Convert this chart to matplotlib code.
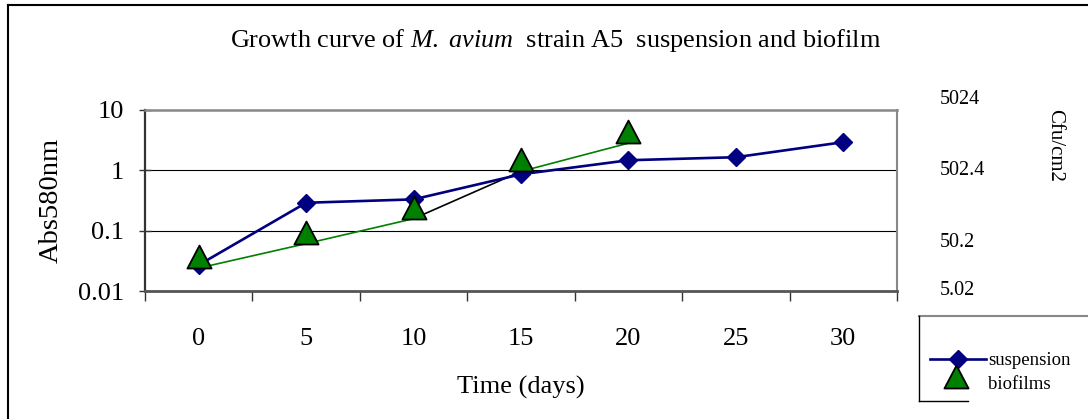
import matplotlib
matplotlib.use("Agg")
import matplotlib.pyplot as plt
import numpy as np
from matplotlib.path import Path
from matplotlib.lines import Line2D
from matplotlib.ticker import FixedLocator, NullLocator, FixedFormatter

plt.rcParams['font.family'] = ['Liberation Serif', 'DejaVu Serif']
plt.rcParams['mathtext.fontset'] = 'custom'
plt.rcParams['mathtext.rm'] = 'Liberation Serif'
plt.rcParams['mathtext.it'] = 'Liberation Serif:italic'

# ---- data ----
days = ["0", "5", "10", "15", "20", "25", "30"]
suspension = [0.027, 0.29, 0.33, 0.86, 1.47, 1.65, 2.93]
biofilms = [0.024, 0.061, 0.158, 0.96, 2.82]
biofilm_segment_colors = ["#008000", "#008000", "#000000", "#008000"]
left_ticks = [0.01, 0.1, 1, 10]
left_tick_labels = ["0.01", "0.1", "1", "10"]
right_labels = ["5024", "502.4", "50.2", "5.02"]
title_text = r"Growth curve of $\it{M.\ avium}$  strain A5  suspension and biofilm"

W, H = 1088, 419
fig = plt.figure(figsize=(W / 100, H / 100), dpi=100)

def fx(px):
    return px / W

def fy(py):
    return 1 - py / H

ax = fig.add_axes([fx(145), fy(291), fx(897) - fx(145), fy(110) - fy(291)])
ax.set_yscale('log')
ax.set_ylim(0.01, 10)
ax.set_xlim(-0.5, len(days) - 0.5)

# gridlines
for g in [0.1, 1]:
    ax.axhline(g, color='black', lw=0.8, zorder=1)

# suspension
xs = np.arange(len(suspension))
ax.plot(xs, suspension, color='#000080', lw=1.9, marker='D', ms=9,
        mfc='#000080', mec='#000080', zorder=3)

# biofilms
xb = np.arange(len(biofilms))
for i in range(len(biofilms) - 1):
    ax.plot(xb[i:i + 2], biofilms[i:i + 2], color=biofilm_segment_colors[i],
            lw=1.2, zorder=2)
tri = Path([(-1, 0), (1, 0), (0, 1.9), (-1, 0)],
           [Path.MOVETO, Path.LINETO, Path.LINETO, Path.CLOSEPOLY])
ax.plot(xb, biofilms, ls='none', marker=tri, ms=33, mfc='#008000',
        mec='black', mew=1.3, zorder=4)

# spines
ax.spines['left'].set_color('#333333')
ax.spines['left'].set_linewidth(1.6)
ax.spines['bottom'].set_color('#555555')
ax.spines['bottom'].set_linewidth(2.0)
ax.spines['top'].set_color('#888888')
ax.spines['top'].set_linewidth(1.8)
ax.spines['right'].set_color('#888888')
ax.spines['right'].set_linewidth(1.5)

# y ticks
ax.yaxis.set_major_locator(FixedLocator(left_ticks))
ax.yaxis.set_major_formatter(FixedFormatter(left_tick_labels))
ax.yaxis.set_minor_locator(NullLocator())
ax.tick_params(axis='y', which='major', direction='inout', length=8,
               width=1, labelsize=19, pad=11, color='#333333')

# x ticks: boundaries as major, labels on minor
ax.xaxis.set_major_locator(FixedLocator(np.arange(-0.5, len(days), 1.0)))
ax.xaxis.set_major_formatter(FixedFormatter([""] * (len(days) + 1)))
ax.xaxis.set_minor_locator(FixedLocator(np.arange(len(days))))
ax.xaxis.set_minor_formatter(FixedFormatter(days))
ax.tick_params(axis='x', which='minor', length=0, labelsize=19, pad=26.5)
ax.tick_params(axis='x', which='major', direction='out', length=7, width=1,
               color='#333333')

ax.set_xlabel("Time (days)", fontsize=19, labelpad=19)
ax.set_ylabel("Abs580nm", fontsize=20.5, labelpad=10)

# title
fig.text(fx(556), fy(40), title_text, ha='center', va='center', fontsize=18.9)

# right-side labels
for lab, py in zip(right_labels, [99, 170, 242, 290]):
    fig.text(fx(940), fy(py), lab, ha='left', va='center', fontsize=14.5)
fig.text(fx(1055), fy(145), "Cfu/cm2", ha='center', va='center',
         rotation=270, fontsize=15)

# outer frame
fig.add_artist(Line2D([fx(8), fx(8)], [fy(5), 0], color='black', lw=1.5,
                      transform=fig.transFigure))
fig.add_artist(Line2D([fx(8), 1], [fy(5), fy(5)], color='black', lw=1.5,
                      transform=fig.transFigure))

# legend box
fig.add_artist(Line2D([fx(919), 1], [fy(316), fy(316)], color='#888888',
                      lw=1.5, transform=fig.transFigure))
fig.add_artist(Line2D([fx(919), fx(919)], [fy(316), fy(401)], color='black',
                      lw=1.0, transform=fig.transFigure))
fig.add_artist(Line2D([fx(919), fx(968)], [fy(401), fy(401)], color='black',
                      lw=1.0, transform=fig.transFigure))
fig.add_artist(Line2D([fx(930), fx(986)], [fy(359), fy(359)], color='#000080',
                      lw=1.9, transform=fig.transFigure))
fig.add_artist(Line2D([fx(958)], [fy(359)], ls='none', marker='D', ms=9,
                      mfc='#000080', mec='#000080', transform=fig.transFigure))
fig.add_artist(Line2D([fx(956)], [fy(388)], ls='none', marker=tri, ms=33,
                      mfc='#008000', mec='black', mew=1.3,
                      transform=fig.transFigure))
fig.text(fx(988), fy(360), "suspension", ha='left', va='center', fontsize=13.5)
fig.text(fx(988), fy(384), "biofilms", ha='left', va='center', fontsize=13.5)

fig.savefig("out.png", dpi=100)
